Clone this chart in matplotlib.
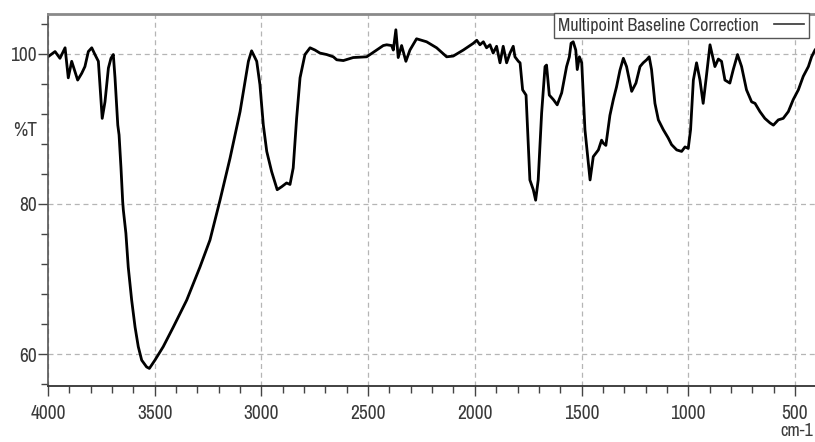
import matplotlib
matplotlib.use("Agg")
import matplotlib.pyplot as plt
from matplotlib.lines import Line2D
from matplotlib.ticker import MultipleLocator, FixedLocator

plt.rcParams['font.family'] = ['Liberation Sans Narrow', 'Arial Narrow', 'Archivo Narrow',
                               'PT Sans Narrow', 'Roboto Condensed', 'Fira Sans Condensed',
                               'Liberation Sans', 'DejaVu Sans']

wavenumber = [4000, 3967, 3944, 3920, 3905, 3889, 3861, 3842, 3827, 3811, 3795, 3780, 3764,
              3746, 3733, 3717, 3705, 3694, 3686, 3673, 3667, 3658, 3650, 3647, 3635, 3624,
              3608, 3592, 3577, 3561, 3538, 3525, 3499, 3460, 3413, 3350, 3288, 3241, 3194,
              3147, 3100, 3061, 3046, 3022, 3007, 2991, 2975, 2952, 2926, 2905, 2882, 2866,
              2851, 2835, 2819, 2796, 2772, 2749, 2726, 2694, 2663, 2647, 2616, 2570, 2507,
              2491, 2460, 2429, 2413, 2390, 2382, 2370, 2359, 2343, 2323, 2304, 2273, 2226,
              2179, 2132, 2101, 2054, 2007, 1991, 1976, 1960, 1945, 1929, 1914, 1898, 1882,
              1867, 1851, 1835, 1820, 1812, 1796, 1788, 1776, 1760, 1749, 1742, 1726, 1715,
              1703, 1687, 1671, 1664, 1651, 1632, 1614, 1593, 1570, 1557, 1549, 1539, 1527,
              1520, 1510, 1499, 1484, 1473, 1460, 1445, 1421, 1406, 1398, 1386, 1367, 1351,
              1336, 1320, 1304, 1289, 1265, 1245, 1226, 1211, 1195, 1183, 1172, 1156, 1140,
              1117, 1094, 1078, 1054, 1031, 1015, 1000, 989, 976, 961, 945, 930, 917, 898,
              875, 859, 844, 828, 805, 789, 769, 750, 727, 703, 687, 664, 641, 617, 601, 578,
              555, 531, 508, 484, 461, 437, 422, 406]
transmittance = [99.6, 100.3, 99.4, 100.8, 96.8, 99.0, 96.5, 97.4, 98.3, 100.3, 100.8, 99.9, 99.0,
                 91.4, 93.6, 98.1, 99.4, 99.9, 96.8, 90.5, 89.2, 84.8, 80.3, 79.2, 76.1, 71.6,
                 67.2, 63.6, 61.0, 59.2, 58.3, 58.1, 59.2, 61.0, 63.6, 67.2, 71.6, 75.2, 80.5,
                 86.1, 92.3, 99.0, 100.4, 99.0, 95.9, 90.5, 87.0, 84.3, 81.9, 82.3, 82.8, 82.6,
                 84.8, 91.4, 96.8, 99.9, 100.8, 100.5, 100.1, 99.9, 99.6, 99.2, 99.1, 99.5, 99.6,
                 99.9, 100.5, 101.1, 101.2, 101.1, 100.5, 103.2, 99.5, 101.1, 99.0, 100.5, 102.0, 101.6,
                 100.8, 99.6, 99.7, 100.5, 101.4, 101.8, 101.2, 101.6, 100.8, 101.2, 100.1, 101.0, 98.8,
                 101.0, 98.8, 100.1, 101.0, 99.6, 99.0, 98.8, 95.2, 94.5, 87.6, 83.2, 81.9, 80.5,
                 83.2, 92.1, 98.3, 98.5, 94.5, 93.9, 93.2, 94.8, 98.3, 99.6, 101.4, 101.6, 100.5,
                 97.9, 99.6, 98.8, 89.9, 86.8, 83.2, 86.3, 87.2, 88.5, 88.1, 87.8, 91.8, 93.9,
                 95.6, 97.8, 99.4, 98.3, 95.0, 96.1, 98.3, 98.8, 99.2, 99.6, 97.9, 93.4, 91.2,
                 89.9, 88.8, 87.9, 87.2, 87.0, 87.6, 87.4, 89.9, 96.5, 98.8, 96.5, 93.4, 96.5, 101.2,
                 98.3, 99.3, 99.0, 96.5, 96.1, 97.9, 99.9, 98.3, 95.2, 93.6, 93.4, 92.3, 91.4, 90.8, 90.5, 91.2,
                 91.4, 92.3, 93.9, 95.2, 97.0, 98.3, 99.6, 100.5]

x_major = [4000, 3500, 3000, 2500, 2000, 1500, 1000, 500]
y_major = [60, 80, 100]
series_label = "Multipoint Baseline Correction"

W, H = 815, 442
fig = plt.figure(figsize=(W / 100, H / 100), dpi=100)
ax = fig.add_axes([48 / W, 1 - 385.7 / H, 1 - 48 / W, (385.7 - 14) / H])

ax.plot(wavenumber, transmittance, color='black', lw=2.0, solid_joinstyle='round')
ax.set_xlim(4000, 406)
ax.set_ylim(55.8, 105.3)

ax.xaxis.set_major_locator(FixedLocator(x_major))
ax.xaxis.set_minor_locator(MultipleLocator(100))
ax.yaxis.set_major_locator(FixedLocator(y_major))
ax.yaxis.set_minor_locator(FixedLocator([56, 64, 68, 72, 76, 84, 88, 92, 96, 104]))
ax.set_xticklabels([str(v) for v in x_major])
ax.set_yticklabels([str(v) for v in y_major])

ax.grid(True, which='major', color='#b5b5b5', linestyle=(0, (4, 3)), lw=0.9)
ax.tick_params(axis='both', which='major', length=7, width=1, color='#444',
               labelsize=14, labelcolor='#3a3a3a')
ax.tick_params(axis='both', which='minor', length=5, width=1, color='#444')
ax.tick_params(axis='x', which='major', pad=6)
ax.tick_params(axis='y', which='major', pad=1)

ax.spines['right'].set_visible(False)
ax.spines['top'].set_color('#8a8a8a')
ax.spines['top'].set_linewidth(2.0)
ax.spines['left'].set_color('#555555')
ax.spines['left'].set_linewidth(1.2)
ax.spines['bottom'].set_color('#333333')
ax.spines['bottom'].set_linewidth(1.3)

fig.text(25 / W, 1 - 130 / H, '%T', ha='center', va='center', fontsize=14, color='#3a3a3a')
fig.text(813 / W, 1 - 431 / H, 'cm-1', ha='right', va='center', fontsize=13, color='#3a3a3a')

handle = Line2D([], [], color='#333333', lw=1.2)
leg = fig.legend([handle], [series_label], loc='upper right',
                 bbox_to_anchor=(809 / W, 1 - 13 / H), borderaxespad=0,
                 markerfirst=False, fancybox=False, framealpha=1,
                 edgecolor='#555555', fontsize=13, handlelength=1.7,
                 borderpad=0.25, handletextpad=0.8)
leg.get_frame().set_linewidth(1.0)
for t in leg.get_texts():
    t.set_color('#3a3a3a')

fig.savefig('out.png', dpi=100)
